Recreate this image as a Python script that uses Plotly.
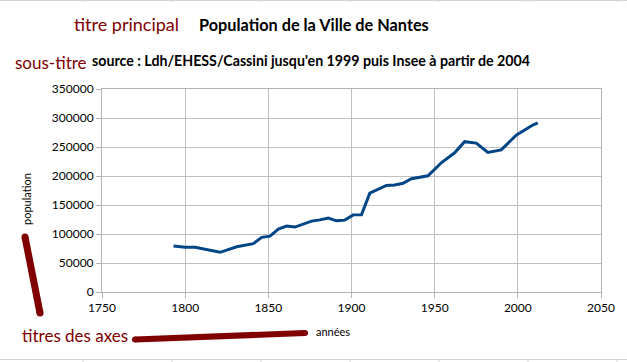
import plotly.graph_objects as go

# ---- data ----
annees = [1793, 1800, 1806, 1821, 1831, 1836, 1841, 1846, 1851, 1856, 1861, 1866,
          1872, 1876, 1881, 1886, 1891, 1896, 1901, 1906, 1911, 1921, 1926, 1931,
          1936, 1946, 1954, 1962, 1968, 1975, 1982, 1990, 1999, 2006, 2009, 2012]
population = [79500, 77226, 77226, 68427, 77992, 80500, 83389, 94194, 96362, 108530,
              113625, 111956, 118517, 122247, 124319, 127482, 122750, 123902, 132990,
              133247, 170535, 183704, 184509, 187343, 195185, 200265, 222790, 240048,
              259208, 256693, 240539, 244995, 270251, 282853, 287845, 291604]
x_ticks = [1750, 1800, 1850, 1900, 1950, 2000, 2050]
y_ticks = [0, 50000, 100000, 150000, 200000, 250000, 300000, 350000]

titre = "Population de la Ville de Nantes"
sous_titre = "source : Ldh/EHESS/Cassini jusqu'en 1999 puis Insee à partir de 2004"
titre_x = "années"
titre_y = "population"

W, H = 627, 362
L, R, T, B = 102, 601, 89, 292
RED = "#800000"
FONT = "Lato"


def px(x):
    return (x - L) / (R - L)


def py(y):
    return (B - y) / (B - T)


fig = go.Figure()
fig.add_trace(go.Scatter(x=annees, y=population, mode="lines",
                         line=dict(color="#004586", width=3), showlegend=False,
                         hoverinfo="skip"))

fig.update_layout(
    width=W, height=H,
    margin=dict(l=L, r=W - R, t=T, b=H - B),
    paper_bgcolor="white", plot_bgcolor="white",
    font=dict(family=FONT, color="black", size=12),
    showlegend=False,
)
fig.update_xaxes(range=[1750, 2050], tickvals=x_ticks, ticktext=[str(v) for v in x_ticks],
                 showgrid=True, gridcolor="#c0c0c0", gridwidth=1,
                 showline=True, linecolor="#b3b3b3", linewidth=1, mirror=True,
                 ticks="outside", ticklen=5, tickcolor="#b3b3b3", zeroline=False,
                 tickfont=dict(family=FONT, size=12, color="black"))
fig.update_yaxes(range=[0, 350000], tickvals=y_ticks, ticktext=[str(v) for v in y_ticks],
                 showgrid=True, gridcolor="#c0c0c0", gridwidth=1,
                 showline=True, linecolor="#b3b3b3", linewidth=1, mirror=True,
                 ticks="outside", ticklen=5, tickcolor="#b3b3b3", zeroline=False,
                 tickfont=dict(family=FONT, size=12, color="black"))


def ann(text, x, y, size, color="black", xanchor="left", angle=0):
    fig.add_annotation(text=text, x=px(x), y=py(y), xref="paper", yref="paper",
                       xanchor=xanchor, yanchor="middle", showarrow=False,
                       textangle=angle, font=dict(family=FONT, size=size, color=color))


ann("titre principal", 72, 24, 18, RED)
ann("<b>" + titre + "</b>", 197, 24, 16.3)
ann("sous-titre", 13, 63, 17, RED)
ann("<b>" + sous_titre + "</b>", 90, 61, 14.2)
ann(titre_y, 26, 199, 11, xanchor="center", angle=-90)
ann(titre_x, 314, 331, 11)
ann("titres des axes", 20, 335, 17, RED)

# freehand strokes
def stroke(x0, y0, x1, y1, w):
    fig.add_shape(type="line", xref="paper", yref="paper",
                  x0=px(x0), y0=py(y0), x1=px(x1), y1=py(y1),
                  line=dict(color=RED, width=w), layer="above")
    for (cx, cy) in [(x0, y0), (x1, y1)]:
        r = w / 2
        fig.add_shape(type="circle", xref="paper", yref="paper",
                      x0=px(cx - r), x1=px(cx + r), y0=py(cy + r), y1=py(cy - r),
                      fillcolor=RED, line=dict(width=0), layer="above")


stroke(25, 237, 40, 313, 7)
stroke(135, 339.5, 305, 333, 6)

# spreadsheet cell lines at top & bottom
for yline in [0.5, 359.5]:
    fig.add_shape(type="line", xref="paper", yref="paper",
                  x0=px(0), x1=px(W), y0=py(yline), y1=py(yline),
                  line=dict(color="#d4d4d4", width=1), layer="below")
for xs in [83, 172, 261, 350, 439, 528, 617]:
    fig.add_shape(type="line", xref="paper", yref="paper",
                  x0=px(xs), x1=px(xs), y0=py(0), y1=py(2),
                  line=dict(color="#d4d4d4", width=1), layer="below")
    fig.add_shape(type="line", xref="paper", yref="paper",
                  x0=px(xs), x1=px(xs), y0=py(359.5), y1=py(362),
                  line=dict(color="#d4d4d4", width=1), layer="below")

fig.write_html("out.html", config={"displayModeBar": False},
               post_script="document.body.style.margin='0';")
